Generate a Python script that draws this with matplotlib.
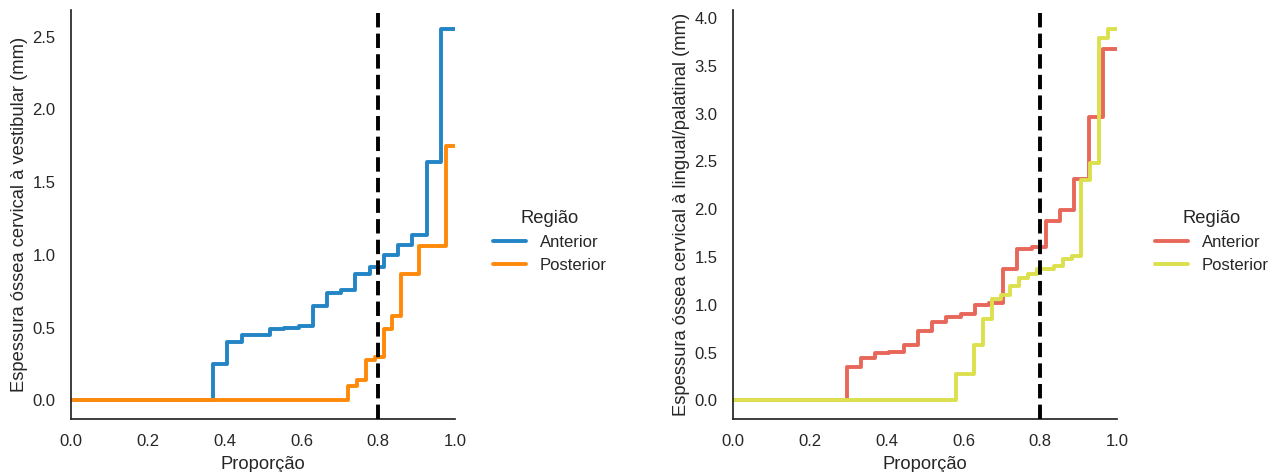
import numpy as np
import matplotlib
matplotlib.use("Agg")
import matplotlib.pyplot as plt
import seaborn as sns

# ---- data (sorted sample values) ----
vest_anterior = [0.0] * 10 + [0.25, 0.40, 0.45, 0.45, 0.49, 0.50, 0.51, 0.65, 0.74, 0.76,
                              0.87, 0.92, 1.00, 1.07, 1.14, 1.635, 2.555]
vest_posterior = [0.0] * 31 + [0.10, 0.14, 0.28, 0.30, 0.49, 0.58, 0.87, 0.87,
                               1.06, 1.06, 1.06, 1.75]
ling_anterior = [0.0] * 8 + [0.35, 0.44, 0.50, 0.51, 0.58, 0.73, 0.82, 0.87, 0.90, 1.00,
                             1.02, 1.37, 1.58, 1.61, 1.88, 1.99, 2.32, 2.96, 3.68]
ling_posterior = [0.0] * 25 + [0.28, 0.28, 0.58, 0.85, 1.06, 1.10, 1.20, 1.28, 1.32,
                               1.37, 1.37, 1.41, 1.48, 1.51, 2.31, 2.48, 3.79, 3.89]
regions = ["Anterior", "Posterior"]
threshold = 0.8
left_colors = ["#2385c5", "#ff8a0a"]
right_colors = ["#e8675b", "#dbe04c"]
ylabels = ["Espessura óssea cervical à vestibular (mm)",
           "Espessura óssea cervical à lingual/palatinal (mm)"]
xlabel = "Proporção"
left_yticks = np.arange(0, 2.51, 0.5)
right_yticks = np.arange(0, 4.01, 0.5)
xticks = np.arange(0, 1.01, 0.2)

sns.set_theme(style="white", context="notebook")
plt.rcParams["font.family"] = ["Liberation Sans", "DejaVu Sans"]

fig = plt.figure(figsize=(12.76, 4.72), dpi=100)
ax1 = fig.add_axes([71 / 1276, 53 / 472, 384 / 1276, 409 / 472])
ax2 = fig.add_axes([733 / 1276, 53 / 472, 384 / 1276, 409 / 472])


def ecdf_y(ax, values, color, label):
    v = np.sort(np.asarray(values, dtype=float))
    n = len(v)
    p = np.arange(0, n + 1) / n
    yy = np.concatenate([[v[0]], v])
    ax.plot(p, yy, drawstyle="steps-pre", color=color, lw=2.8, label=label)


for ax, data, cols, ylab, yt in [
    (ax1, [vest_anterior, vest_posterior], left_colors, ylabels[0], left_yticks),
    (ax2, [ling_anterior, ling_posterior], right_colors, ylabels[1], right_yticks),
]:
    for vals, c, lab in zip(data, cols, regions):
        ecdf_y(ax, vals, c, lab)
    ax.axvline(threshold, color="black", ls="--", lw=2.8, zorder=5)
    ax.set_xlim(0, 1)
    allv = np.concatenate([np.asarray(d) for d in data])
    rng = allv.max() - allv.min()
    ax.set_ylim(allv.min() - 0.05 * rng, allv.max() + 0.05 * rng)
    ax.set_xticks(xticks)
    ax.set_yticks(yt)
    ax.set_xticklabels([f"{t:.1f}" for t in xticks])
    ax.set_yticklabels([f"{t:.1f}" for t in yt])
    ax.set_xlabel(xlabel, fontsize=13.2, labelpad=5)
    ax.set_ylabel(ylab, fontsize=13.2, labelpad=3)
    ax.tick_params(labelsize=12, pad=5)
    sns.despine(ax=ax)
    leg = ax.legend(title="Região", loc="center left", bbox_to_anchor=(1.06, 0.434),
                    frameon=False, fontsize=12, title_fontsize=13.2,
                    handlelength=2.0)

fig.savefig("out.png", dpi=100)
